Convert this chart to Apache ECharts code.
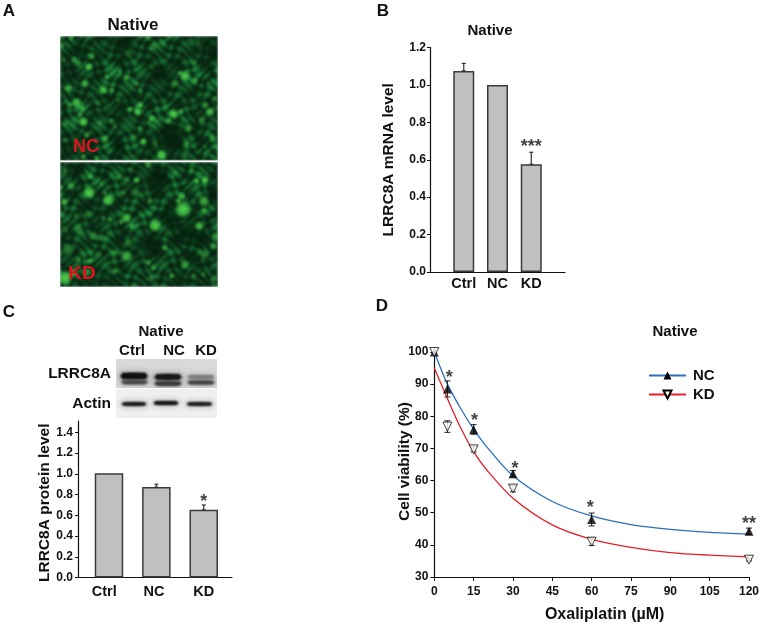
<!DOCTYPE html>
<html><head><meta charset="utf-8">
<style>html,body{margin:0;padding:0;background:#fff}#c{width:762px;height:624px}</style>
<script src="https://cdn.jsdelivr.net/npm/echarts@6/dist/echarts.min.js"></script>
</head><body><div id="c"></div>
<script>
// Panel B
const mrnaCats = ['Ctrl','NC','KD'];
const mrnaVals = [1.075,1.0,0.576];
const mrnaErrTop = [1.115,1.0,0.64];
const mrnaTicks = [0,0.2,0.4,0.6,0.8,1.0,1.2];
// Panel C
const protCats = ['Ctrl','NC','KD'];
const protVals = [1.005,0.872,0.653];
const protErrTop = [1.005,0.90,0.70];
const protTicks = [0,0.2,0.4,0.6,0.8,1.0,1.2,1.4];
// Panel D
const doses = [0,5,15,30,60,120];
const ncMean = [100,88.5,75.9,62.1,47.9,44.2];
const ncErr = [0,2.5,1.5,1,2,1];
const kdMean = [100,76.8,69.7,57.5,41,35.4];
const kdErr = [0,1.8,0.8,1,1.2,0.4];
const curveX = [0,5,10,15,20,30,45,60,75,90,105,120];
const ncCurve = [100,90,82.5,76,70.5,61.5,53.5,49,46.3,44.8,43.9,43.4];
const kdCurve = [95,85.5,76.5,69,63.3,54.5,46.2,41.7,39.2,37.6,36.8,36.3];
const starX = [5.7,15.3,30.8,59.5,120];
const starY = [92.6,79.3,64.3,52.2,47];
const starText = ['*','*','*','*','**'];

// Photo texture: bright cells [x, y, radius, strength]
const cellsNC = [[92,100,9,1],[100,68,8,.7],[38,15,7,.7],[48,78,8,.6],[60,90,7,.5],[30,165,9,.8],[80,150,9,.8],[135,170,10,.9],[160,170,6,.8],[145,130,6,.8],[55,208,11,.9],[35,215,7,.7],[75,265,11,1],[72,225,7,.7],[85,305,7,.7],[65,245,6,.6],[125,268,5,.6],[158,262,6,.7],[215,228,6,.9],[238,235,9,1],[245,215,8,.9],[205,132,8,.8],[185,112,5,.7],[235,150,5,.6],[245,170,6,.6],[280,255,8,.9],[270,268,5,.6],[330,262,8,.8],[345,242,11,1],[368,235,7,.7],[380,128,12,1],[365,118,6,.7],[410,142,7,.8],[350,150,9,.6],[390,285,8,.7],[455,235,10,.9],[440,215,8,.7],[470,195,6,.6],[450,150,5,.5],[430,260,8,.6],[255,325,8,1],[310,365,12,1],[245,285,6,.7],[170,280,6,.5],[140,315,8,.7],[115,375,6,.7],[75,370,6,.8],[225,310,6,.5],[290,330,6,.5],[385,330,8,.6],[460,310,7,.5],[380,360,7,.4],[440,340,6,.4],[15,80,6,.5],[10,35,7,.6],[120,210,6,.5],[180,200,5,.5],[285,40,10,.4],[270,15,7,.5],[210,60,10,.3],[280,100,8,.3],[420,30,8,.3],[410,90,7,.3],[20,270,8,.4],[20,320,7,.4]];
const darkNC = [[340,310,38],[310,120,22],[60,50,22],[200,30,20],[470,60,24],[180,345,16]];
const cellsKD = [[235,62,7,1],[415,65,7,.9],[440,62,9,1],[92,100,14,1],[38,80,9,.7],[95,52,6,.7],[150,122,13,1],[140,100,6,.6],[195,100,6,.6],[230,100,9,.5],[18,128,8,.9],[375,150,18,1],[370,110,9,.9],[360,125,7,.8],[437,125,12,.8],[437,155,8,.7],[290,198,14,1],[275,125,7,.6],[205,175,11,.9],[188,187,6,.7],[220,200,7,.7],[135,175,5,.6],[155,180,6,.7],[423,200,10,.9],[470,230,8,.6],[105,230,10,.6],[130,235,9,.4],[205,290,13,.8],[210,250,9,.5],[170,280,6,.5],[320,265,7,.7],[380,315,10,.7],[270,310,7,.7],[285,325,7,.7],[340,350,6,.8],[440,285,10,.5],[465,260,8,.6],[95,305,7,.8],[60,300,7,.6],[20,355,16,1],[45,340,9,.9],[85,340,10,.6],[170,335,7,.6],[205,60,8,.4],[270,15,8,.7],[215,30,6,.5],[30,270,13,.5],[120,285,9,.4],[60,210,12,.4],[20,210,9,.4],[90,165,9,.4],[55,170,8,.4],[180,55,7,.4],[130,75,7,.4],[405,350,6,.6],[435,345,5,.6],[280,355,8,.5],[465,360,8,.5],[350,40,6,.4],[400,30,8,.3],[20,40,8,.3],[8,85,6,.7]];
const darkKD = [[300,60,30],[400,230,34],[290,260,24],[330,180,22],[400,300,22],[470,110,22],[60,30,16]];

function photo(cells, darks, phase){
  const w=158,h=125,cv=document.createElement('canvas');cv.width=w;cv.height=h;
  const raw=document.createElement('canvas');raw.width=w;raw.height=h;
  const g=raw.getContext('2d'),im=g.createImageData(w,h);
  for(let y=0;y<h;y++)for(let x=0;x<w;x++){
    const a=Math.sin(x*.43+1.9*Math.sin(y*.17+phase))*Math.sin(y*.49+1.9*Math.sin(x*.21+phase*2));
    const b=Math.sin(x*.23+y*.11+2.3*Math.sin(y*.09+phase));
    const e=.7+.3*Math.sin(x*.07+phase)*Math.sin(y*.09+phase*1.5);
    let v=Math.max(0,(a+.35*b+.45)/1.7);
    v=Math.min(1,v*e);
    const i=(y*w+x)*4;
    im.data[i]=8+v*24;im.data[i+1]=38+v*115;im.data[i+2]=18+v*50;im.data[i+3]=255;
  }
  g.putImageData(im,0,0);
  darks.forEach(d=>{const x=(d[0]-5)/3,y=(d[1]-8)/3,r=d[2]/3*1.5,gr=g.createRadialGradient(x,y,0,x,y,r);
    gr.addColorStop(0,'rgba(4,30,12,.85)');gr.addColorStop(.6,'rgba(4,30,12,.6)');gr.addColorStop(1,'rgba(4,30,12,0)');
    g.fillStyle=gr;g.fillRect(x-r,y-r,2*r,2*r);});
  cells.forEach(c=>{const x=(c[0]-5)/3,y=(c[1]-8)/3,r=c[2]/3*1.5,gr=g.createRadialGradient(x,y,0,x,y,r);
    const a=c[3];
    gr.addColorStop(0,`rgba(85,215,75,${a})`);gr.addColorStop(.6,`rgba(65,190,70,${a*.8})`);gr.addColorStop(1,'rgba(40,150,60,0)');
    g.fillStyle=gr;g.fillRect(x-r,y-r,2*r,2*r);});
  const o=cv.getContext('2d');o.filter='blur(1.1px)';o.drawImage(raw,0,0);
  return cv;
}
// Western blot bands [x0, x1, y, thickness, grey]
const bandsLRRC = [[4,32,17,6,15],[5,32,23,4,75],[38,66,18,5.5,25],[38,66,24.5,4,60],[71,99,18,3.5,125],[71,99,23.5,3.5,70]];
const bandsActin = [[5,31,15,3,20],[37,63,14,3.2,20],[70,97,15,3,25]];
function blot(bands,bg,w,h){
  const cv=document.createElement('canvas');cv.width=w;cv.height=h;
  const g=cv.getContext('2d');g.fillStyle=bg;g.fillRect(0,0,w,h);
  g.filter='blur(3px)';g.globalAlpha=.35;
  bands.forEach(b=>{g.fillStyle=`rgb(${b[4]},${b[4]},${b[4]})`;g.fillRect(b[0],b[2]-b[3]/2-1,b[1]-b[0],b[3]+2);});
  g.filter='blur(0.9px)';g.globalAlpha=1;
  bands.forEach(b=>{g.fillStyle=`rgb(${b[4]},${b[4]},${b[4]})`;g.beginPath();g.ellipse((b[0]+b[1])/2,b[2],(b[1]-b[0])/2,b[3]/2,0,0,7);g.fill();
    g.fillRect(b[0]+2,b[2]-b[3]/2,b[1]-b[0]-4,b[3]);});
  return cv;
}

const FF='"Liberation Sans",Arial,sans-serif', INK='#111';
const txt=(x,y,s,size,extra)=>({type:'text',z:50,style:Object.assign({x,y,text:s,fontFamily:FF,fontWeight:'bold',fontSize:size,fill:INK,textAlign:'center',textVerticalAlign:'middle'},extra||{})});
const img=(x,y,w,h,im)=>({type:'image',z:1,style:{image:im,x,y,width:w,height:h}});

const axisLine={show:true,onZero:false,lineStyle:{color:'#111',width:1.2}};
const tick=(len)=>({show:true,length:len,lineStyle:{color:'#111',width:1}});
const lab=(size,margin)=>({fontFamily:FF,fontWeight:'bold',fontSize:size,color:INK,margin});
const nameSt=(size,extra)=>Object.assign({fontFamily:FF,fontWeight:'bold',fontSize:size,color:INK},extra||{});

function errBars(gridI,cap,col,wid){
  return {type:'custom',xAxisIndex:gridI,yAxisIndex:gridI,z:4,silent:true,
    renderItem(p,api){
      const a=api.coord([api.value(0),api.value(1)]),b=api.coord([api.value(0),api.value(2)]);
      const st={stroke:col,lineWidth:wid,fill:null};
      return {type:'group',children:[
        {type:'line',shape:{x1:a[0],y1:a[1],x2:b[0],y2:b[1]},style:st},
        {type:'line',shape:{x1:a[0]-cap,y1:b[1],x2:a[0]+cap,y2:b[1]},style:st},
        {type:'line',shape:{x1:a[0]-cap,y1:a[1],x2:a[0]+cap,y2:a[1]},style:st}]};
    }};
}
function stars(gridI,data,size,off){
  return {type:'scatter',xAxisIndex:gridI,yAxisIndex:gridI,z:6,silent:true,symbolSize:1,clip:false,itemStyle:{color:'rgba(0,0,0,0)'},
    data,label:{show:true,position:'inside',offset:[0,off],formatter:p=>p.data[2],fontFamily:FF,fontWeight:'bold',fontSize:size,color:INK}};
}
const barStyle={color:'#c0c0c0',borderColor:'#3a3a3a',borderWidth:1.5};
const errSeries=(xs,lo,hi)=>xs.map((x,i)=>[x,lo[i],hi[i]]);
const protLabelAt=[-0.1,0.95,2];

const option={
  animation:false,backgroundColor:'#fff',
  grid:[
    {left:430,top:47.5,width:135,height:224.5},
    {left:78,top:421,width:154,height:156.5},
    {left:434.3,top:352,width:316,height:225.3}
  ],
  xAxis:[
    {gridIndex:0,type:'value',min:-1,max:3,splitLine:{show:false},axisLine,axisTick:{show:false},
     axisLabel:Object.assign(lab(14.5,4),{customValues:[0,1,2],formatter:v=>mrnaCats[v]})},
    {gridIndex:1,type:'value',min:-0.654,max:2.596,splitLine:{show:false},axisLine,axisTick:{show:false},
     axisLabel:Object.assign(lab(14.5,7),{customValues:protLabelAt,formatter:v=>protCats[protLabelAt.indexOf(v)]})},
    {gridIndex:2,type:'value',min:0,max:120,interval:15,splitLine:{show:false},axisLine,axisTick:tick(4),axisLabel:lab(12,9),
     name:'Oxaliplatin (\u00b5M)',nameLocation:'middle',nameGap:30,nameMoveOverlap:false,nameTextStyle:nameSt(16,{padding:[0,0,0,26]})}
  ],
  yAxis:[
    {gridIndex:0,type:'value',min:0,max:1.2,interval:0.2,splitLine:{show:false},axisLine,axisTick:tick(3),
     axisLabel:Object.assign(lab(12,4),{formatter:v=>v.toFixed(1)}),
     name:'LRRC8A mRNA level',nameLocation:'middle',nameGap:33,nameMoveOverlap:false,nameTextStyle:nameSt(15.5)},
    {gridIndex:1,type:'value',min:0,max:1.51,splitLine:{show:false},axisLine,
     axisTick:Object.assign(tick(3),{customValues:protTicks}),
     axisLabel:Object.assign(lab(12,5),{customValues:protTicks,formatter:v=>v.toFixed(1)}),
     name:'LRRC8A protein level',nameLocation:'middle',nameGap:25,nameMoveOverlap:false,nameTextStyle:nameSt(15.5,{padding:[0,7,0,0]})},
    {gridIndex:2,type:'value',min:30,max:100,interval:10,splitLine:{show:false},axisLine,axisTick:tick(4),axisLabel:lab(12,6),
     name:'Cell viability (%)',nameLocation:'middle',nameGap:22,nameMoveOverlap:false,nameTextStyle:nameSt(15.5,{padding:[0,0,0,6]})}
  ],
  legend:{show:true,orient:'vertical',left:643,top:363,itemWidth:37,itemHeight:10,itemGap:4,data:['NC','KD'],
    selectedMode:false,textStyle:{fontFamily:FF,fontWeight:'bold',fontSize:15,color:INK,padding:[0,0,0,2]}},
  series:[
    {type:'bar',xAxisIndex:0,yAxisIndex:0,barWidth:21,itemStyle:barStyle,data:mrnaVals.map((v,i)=>[i,v]),z:2},
    Object.assign(errBars(0,2,'#333',1.2),{data:errSeries([0,2],[mrnaVals[0],mrnaVals[2]],[mrnaErrTop[0],mrnaErrTop[2]])}),
    stars(0,[[2,0.69,'***']],18,4),

    {type:'bar',xAxisIndex:1,yAxisIndex:1,barWidth:28.5,itemStyle:barStyle,data:protVals.map((v,i)=>[i,v]),z:2},
    Object.assign(errBars(1,2,'#333',1.2),{data:errSeries([1,2],[protVals[1],protVals[2]],[protErrTop[1],protErrTop[2]])}),
    stars(1,[[2,0.755,'*']],18,3),

    {name:'NC',type:'line',xAxisIndex:2,yAxisIndex:2,smooth:0.3,showSymbol:false,symbol:'triangle',symbolSize:10,
     lineStyle:{color:'#2b6fbd',width:1.3},itemStyle:{color:'#000'},data:curveX.map((x,i)=>[x,ncCurve[i]]),z:3,silent:true},
    {name:'KD',type:'line',xAxisIndex:2,yAxisIndex:2,smooth:0.3,showSymbol:false,symbol:'triangle',symbolRotate:180,symbolSize:10,
     lineStyle:{color:'#e6202a',width:1.3},itemStyle:{color:'#fff',borderColor:'#000',borderWidth:1},data:curveX.map((x,i)=>[x,kdCurve[i]]),z:3,silent:true},
    Object.assign(errBars(2,3,'#222',1),{data:doses.map((x,i)=>[x,ncMean[i]-ncErr[i],ncMean[i]+ncErr[i]]).slice(1)}),
    Object.assign(errBars(2,3,'#222',1),{data:doses.map((x,i)=>[x,kdMean[i]-kdErr[i],kdMean[i]+kdErr[i]]).slice(1)}),
    {type:'scatter',xAxisIndex:2,yAxisIndex:2,z:5,clip:false,symbol:'triangle',symbolSize:9,itemStyle:{color:'#000'},silent:true,data:doses.map((x,i)=>[x,ncMean[i]])},
    {type:'scatter',xAxisIndex:2,yAxisIndex:2,z:5,clip:false,symbol:'triangle',symbolRotate:180,symbolSize:9,itemStyle:{color:'#fff',borderColor:'#111',borderWidth:1},silent:true,data:doses.map((x,i)=>[x,kdMean[i]])},
    stars(2,starX.map((x,i)=>[x,starY[i],starText[i]]),18,2)
  ],
  graphic:{elements:[
    txt(9,11,'A',17),txt(383,11,'B',17),txt(9,312,'C',17),txt(382,306,'D',17),
    txt(133,25,'Native',17),txt(490,31,'Native',15),txt(161,332,'Native',15),txt(675,332,'Native',15),
    img(60,36,158,125,photo(cellsNC,darkNC,0.7)),
    {type:'rect',z:2,shape:{x:60,y:160.5,width:158,height:1.5},style:{fill:'#fff'}},
    img(60,162,158,125,photo(cellsKD,darkKD,2.1)),
    txt(86,147,'NC',18,{fill:'#e1121f'}),txt(82,274,'KD',19,{fill:'#e1121f'}),
    txt(132,351,'Ctrl',15),txt(174,351,'NC',15),txt(206,351,'KD',15),
    txt(111,374,'LRRC8A',15.5,{textAlign:'right'}),txt(111,404,'Actin',15.5,{textAlign:'right'}),
    img(116,359,101,29,blot(bandsLRRC,'#d9d9d9',101,29)),
    img(116,389,101,29,blot(bandsActin,'#f0f0f0',101,29))
  ]}
};
const chart=echarts.init(document.getElementById('c'),null,{renderer:'canvas',width:762,height:624});
chart.setOption(option);
</script></body></html>
